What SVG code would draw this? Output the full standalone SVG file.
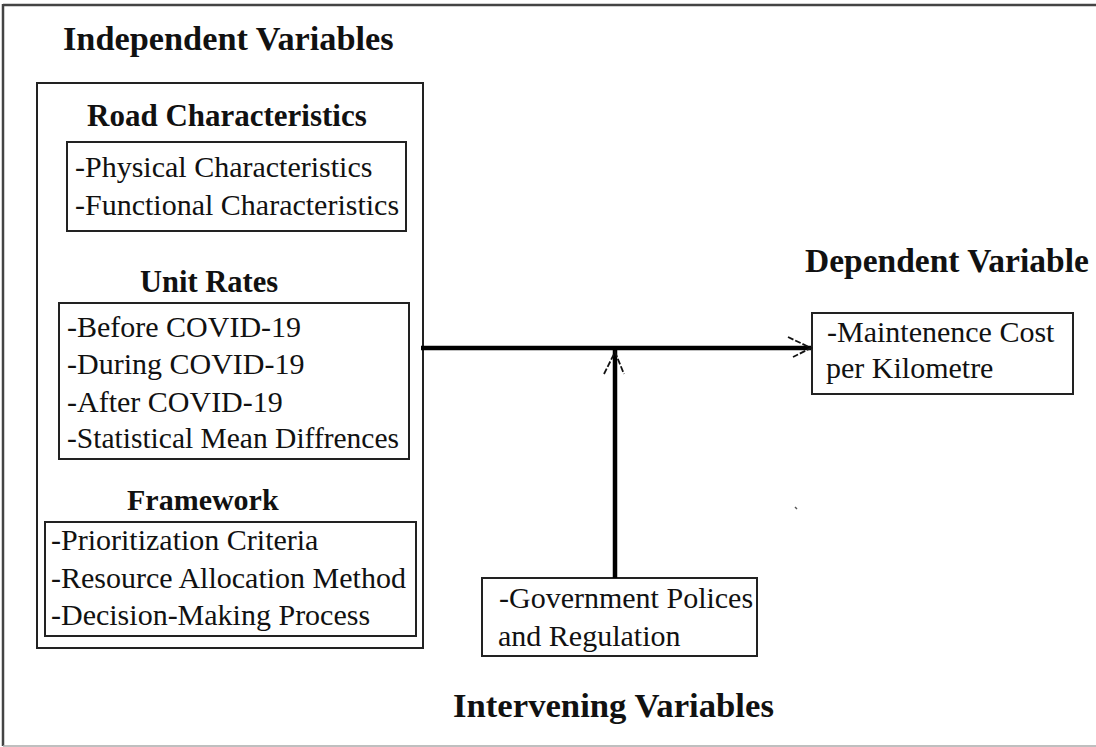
<svg xmlns="http://www.w3.org/2000/svg" width="1096" height="747" viewBox="0 0 1096 747">
<style>
.h{font-family:"Liberation Serif","Times New Roman",serif;font-weight:bold;font-size:33.5px;fill:#111}
.s{font-family:"Liberation Serif","Times New Roman",serif;font-weight:bold;font-size:30.5px;fill:#111}
.b{font-family:"Liberation Serif","Times New Roman",serif;font-size:30px;fill:#111}
.box{fill:none;stroke:#222;stroke-width:2}
.thick{stroke:#000;stroke-width:4.5;fill:none}
.head{stroke:#111;stroke-width:1.8;fill:none;stroke-dasharray:6 2}
</style>
<rect width="1096" height="747" fill="#fff"/>
<g id="frame">
<line x1="3" y1="5" x2="1096" y2="5" stroke="#444" stroke-width="2.5"/>
<line x1="3" y1="4" x2="3" y2="746" stroke="#444" stroke-width="2.5"/>
<line x1="3" y1="746" x2="1096" y2="746" stroke="#aaa" stroke-width="1.5"/>
</g>
<g id="independent">
<text class="h" x="63" y="50" style="font-size:34.3px">Independent Variables</text>
<rect class="box" x="37" y="83" width="386" height="565"/>
</g>
<g id="road">
<text class="s" x="87" y="126" style="font-size:31px">Road Characteristics</text>
<rect class="box" x="67" y="142" width="339" height="89"/>
<text class="b" x="75" y="177">-Physical Characteristics</text>
<text class="b" x="75" y="215">-Functional Characteristics</text>
</g>
<g id="unitrates">
<text class="s" x="140" y="292">Unit Rates</text>
<rect class="box" x="59" y="303" width="350" height="156"/>
<text class="b" x="67" y="337">-Before COVID-19</text>
<text class="b" x="67" y="374">-During COVID-19</text>
<text class="b" x="67" y="412">-After COVID-19</text>
<text class="b" x="67" y="448" style="font-size:29.5px">-Statistical Mean Diffrences</text>
</g>
<g id="framework">
<text class="s" x="127" y="510" style="font-size:30px">Framework</text>
<rect class="box" x="45" y="522" width="371" height="114"/>
<text class="b" x="51" y="550">-Prioritization Criteria</text>
<text class="b" x="51" y="588">-Resource Allocation Method</text>
<text class="b" x="51" y="625">-Decision-Making Process</text>
</g>
<g id="dependent">
<text class="h" x="805" y="272">Dependent Variable</text>
<rect class="box" x="812" y="313" width="261" height="81"/>
<text class="b" x="827" y="342">-Maintenence Cost</text>
<text class="b" x="826" y="378">per Kilometre</text>
</g>
<g id="intervening">
<rect class="box" x="482" y="578" width="275" height="78"/>
<text class="b" x="499" y="608">-Government Polices</text>
<text class="b" x="498" y="646">and Regulation</text>
<text class="h" x="453" y="717" style="font-size:34.7px">Intervening Variables</text>
</g>
<g id="connectors">
<line class="thick" x1="421" y1="348" x2="811" y2="348"/>
<path class="head" d="M788 337 L811 348 L793 357"/>
<line class="thick" x1="615" y1="348" x2="615" y2="578"/>
<path class="head" d="M604 374 L615 352 L624 374"/>
</g>
<path d="M795 507 L797 509" stroke="#555" stroke-width="1.5"/>
</svg>
